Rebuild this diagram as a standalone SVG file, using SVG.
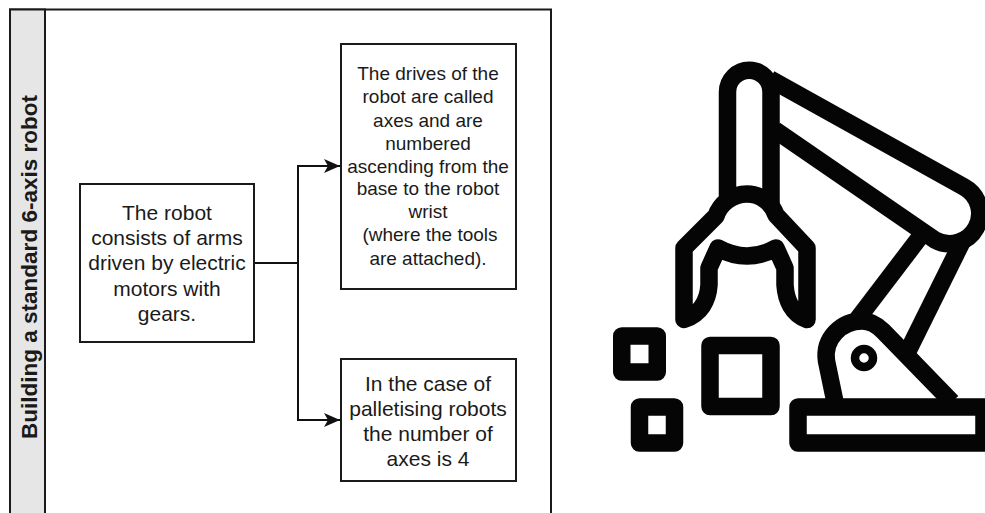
<svg xmlns="http://www.w3.org/2000/svg" width="985" height="513" viewBox="0 0 985 513">
<style>
.box{fill:#fff;stroke:#1a1a1a;stroke-width:2}
.t{font-family:"Liberation Sans",Arial,sans-serif;fill:#1a1a1a;text-anchor:middle}
.t1{font-size:21px}.t2{font-size:19px}.t3{font-size:21px}
.conn{fill:none;stroke:#111;stroke-width:2}
.ic{fill:none;stroke:#050505;stroke-width:17.5;stroke-linejoin:round}
</style>
<defs>
<marker id="arrow" markerUnits="userSpaceOnUse" markerWidth="18" markerHeight="16" refX="16" refY="8" orient="auto">
<path d="M0,1 L16,8 L0,15 L4,8 Z" fill="#111"/>
</marker>
</defs>
<rect width="985" height="513" fill="#fff"/>
<g id="container">
<rect x="10" y="9.500" width="541" height="520" fill="#fff" stroke="#1a1a1a" stroke-width="2"/>
<rect x="10" y="9.500" width="35" height="520" fill="#e6e6e6" stroke="#1a1a1a" stroke-width="2"/>
<text class="t" transform="translate(36.500 267) rotate(-90)" font-size="22.500" font-weight="bold">Building a standard 6-axis robot</text>
</g>
<g id="connectors">
<path class="conn" d="M254,263 H298 V166 H340" marker-end="url(#arrow)"/>
<path class="conn" d="M298,263 V420 H340" marker-end="url(#arrow)"/>
</g>
<g id="node-robot">
<rect class="box" x="80" y="184" width="174" height="158"/>
<text class="t t1" x="167" y="220">The robot</text>
<text class="t t1" x="167" y="245">consists of arms</text>
<text class="t t1" x="167" y="270">driven by electric</text>
<text class="t t1" x="167" y="295.500">motors with</text>
<text class="t t1" x="167" y="320.500">gears.</text>
</g>
<g id="node-drives">
<rect class="box" x="341" y="44" width="175" height="245"/>
<text class="t t2" x="428" y="80">The drives of the</text>
<text class="t t2" x="428" y="102.500">robot are called</text>
<text class="t t2" x="428" y="127">axes and are</text>
<text class="t t2" x="428" y="150">numbered</text>
<text class="t t2" x="428" y="172.500">ascending from the</text>
<text class="t t2" x="428" y="195">base to the robot</text>
<text class="t t2" x="428" y="218">wrist</text>
<text class="t t2" x="430" y="240.500">(where the tools</text>
<text class="t t2" x="428" y="265">are attached).</text>
</g>
<g id="node-palletising">
<rect class="box" x="341" y="359" width="175" height="122"/>
<text class="t t3" x="428" y="390.500">In the case of</text>
<text class="t t3" x="428" y="415.500">palletising robots</text>
<text class="t t3" x="428" y="440.500">the number of</text>
<text class="t t3" x="428" y="465.500">axes is 4</text>
</g>
<g id="robot-icon">
<path class="ic" d="M727.500,197 V92 A21.750 21.750 0 0 1 771,92 V206"/>
<path class="ic" d="M770,79 L964,187 A30,30 0 0 1 935,240 L775,130"/>
<path class="ic" d="M923,233 L856,321"/>
<path class="ic" d="M963,240 L906,355"/>
<path class="ic" d="M716,216 C720,204 732,194 747,194 C762,194 772,204 776,215 L807,248 V319.500 C792,314 786,300 785,285 V268 L776,248 Q747,264 718,248 L709,268 V285 C708,300 701,314 684,319.500 V248 Z"/>
<path class="ic" d="M835,402 L826.500,361 C823,338 842,321 862,321 C872,321 878,326 883,331 L952,402"/>
<circle cx="864" cy="358" r="9" fill="none" stroke="#050505" stroke-width="8.500"/>
<rect class="ic" x="798" y="407" width="186" height="36"/>
<rect class="ic" x="621.750" y="336" width="35.500" height="36"/>
<rect class="ic" x="710" y="345.500" width="61" height="61"/>
<rect class="ic" x="639.500" y="407" width="35" height="36"/>
</g>
</svg>
